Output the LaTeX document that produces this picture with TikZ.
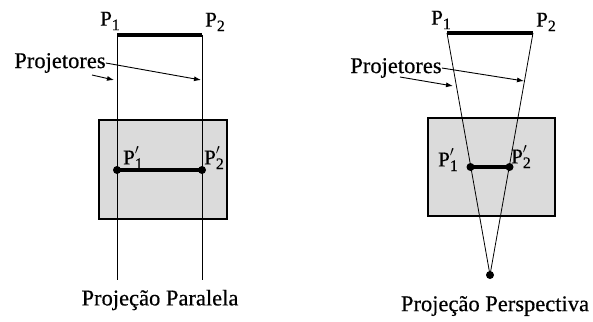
\documentclass[tikz,border=0pt]{standalone}
\usepackage{fontspec}
\setmainfont{Liberation Serif}[FakeBold=0.5]
\usetikzlibrary{arrows.meta}
\newcommand{\Pl}[1]{P\raisebox{-0.22em}{\fontsize{16}{16}\selectfont #1}}
\newcommand{\Ppl}[1]{P\rlap{\raisebox{0.45em}{\fontsize{14}{14}\selectfont $\prime$}}\raisebox{-0.22em}{\fontsize{16}{16}\selectfont #1}}
\begin{document}
\begin{tikzpicture}[x=1pt,y=-1pt,
  ray/.style={line width=0.8pt},
  seg/.style={line width=3.4pt},
  plane/.style={draw, line width=2pt, fill=gray!28},
  dot/.style={circle, fill, inner sep=0pt, minimum size=8pt},
  lbl/.style={font=\fontsize{21}{23}\selectfont, inner sep=0pt},
  txt/.style={font=\fontsize{22.5}{26}\selectfont, inner sep=0pt},
  arr/.style={-{Latex[length=7pt,width=5pt]}, line width=0.9pt}]
\useasboundingbox (0,0) rectangle (593,321);
% ---------------- left: parallel projection
\coordinate (A1) at (117,35);
\coordinate (A2) at (202,35);
\coordinate (A1b) at (117,280);
\coordinate (A2b) at (202,280);
\coordinate (A1p) at (117,170);
\coordinate (A2p) at (202,170);
\coordinate (RA1) at (99,120);
\coordinate (RA2) at (227,219);
\draw[plane] (RA1) rectangle (RA2);
\draw[ray] (A1) -- (A1b);
\draw[ray] (A2) -- (A2b);
\draw[seg] (A1) -- (A2);
\draw[seg] (A1p) -- (A2p);
\node[dot] (dA1) at (A1p) {};
\node[dot] (dA2) at (A2p) {};
\node[lbl] (lA1) at (110,21) {\Pl{1}};
\node[lbl] (lA2) at (215,22) {\Pl{2}};
\node[lbl] (lA1p) at (133,158) {\Ppl{1}};
\node[lbl] (lA2p) at (214,158) {\Ppl{2}};
\node[txt] (projA) at (60,63) {Projetores};
\coordinate (sA1) at (92,75);
\coordinate (eA1) at (114,80);
\coordinate (eA2) at (201,80);
\draw[arr] (sA1) -- (eA1);
\draw[arr] (projA.east) -- (eA2);
\node[txt] (capA) at (160,300) {Projeção Paralela};
% ---------------- right: perspective projection
\coordinate (B1) at (447,33);
\coordinate (B2) at (533,33);
\coordinate (V) at (490,275);
\coordinate (B1p) at (470.5,167);
\coordinate (B2p) at (509.5,167);
\coordinate (RB1) at (428,118);
\coordinate (RB2) at (555,216);
\draw[plane] (RB1) rectangle (RB2);
\draw[ray] (B1) -- (V);
\draw[ray] (B2) -- (V);
\draw[seg] (B1) -- (B2);
\draw[seg] (B1p) -- (B2p);
\node[dot] (dB1) at (B1p) {};
\node[dot] (dB2) at (B2p) {};
\node[dot] (dV) at (V) {};
\node[lbl] (lB1) at (441,20) {\Pl{1}};
\node[lbl] (lB2) at (546,22) {\Pl{2}};
\node[lbl] (lB1p) at (448,160) {\Ppl{1}};
\node[lbl] (lB2p) at (521,157) {\Ppl{2}};
\node[txt] (projB) at (396,68) {Projetores};
\coordinate (sB1) at (400,77);
\coordinate (eB1) at (453,86);
\coordinate (eB2) at (524,81);
\draw[arr] (sB1) -- (eB1);
\draw[arr] (projB.east) -- (eB2);
\node[txt] (capB) at (495,306) {Projeção Perspectiva};
\end{tikzpicture}
\end{document}
